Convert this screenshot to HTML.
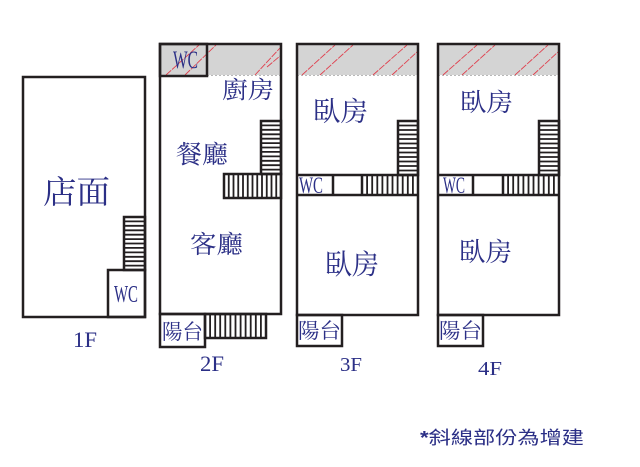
<!DOCTYPE html>
<html>
<head>
<meta charset="utf-8">
<style>
html,body{margin:0;padding:0;background:#fff;}
svg{display:block;}
.t{font-family:"Liberation Serif","Noto Serif CJK SC",serif;fill:#2b2f86;}
.n{font-family:"Liberation Sans","Noto Sans CJK TC",sans-serif;fill:#2b2f86;}
</style>
</head>
<body>
<svg width="640" height="467" viewBox="0 0 640 467" xmlns="http://www.w3.org/2000/svg">
<rect width="640" height="467" fill="#fff"/>

<!-- gray bands -->
<rect x="160" y="44" width="121" height="31" fill="#d4d4d4"/>
<rect x="297" y="44" width="121" height="31" fill="#d4d4d4"/>
<rect x="438" y="44" width="121" height="31" fill="#d4d4d4"/>
<g stroke="#b8b8b8" stroke-width="1" stroke-dasharray="2 2">
<line x1="207" y1="75.5" x2="281" y2="75.5"/>
<line x1="297" y1="75.5" x2="418" y2="75.5"/>
<line x1="438" y1="75.5" x2="559" y2="75.5"/>
</g>

<!-- hatch lines -->
<g stroke="#e0404e" stroke-width="0.9" stroke-dasharray="7 1.2" fill="none">
<line x1="166" y1="75" x2="199" y2="45"/>
<line x1="185" y1="75" x2="216" y2="45"/>
<line x1="255" y1="75" x2="280" y2="48"/>
<line x1="267" y1="67" x2="280" y2="56"/>
<line x1="302" y1="75" x2="335" y2="45"/>
<line x1="320" y1="75" x2="353" y2="45"/>
<line x1="373" y1="75" x2="407" y2="45"/>
<line x1="392" y1="75" x2="417" y2="52"/>
<line x1="443" y1="75" x2="477" y2="45"/>
<line x1="462" y1="75" x2="495" y2="45"/>
<line x1="515" y1="75" x2="548" y2="45"/>
<line x1="533" y1="75" x2="558" y2="52"/>
</g>

<g fill="none" stroke="#231f20" stroke-width="2.5">
<!-- 1F -->
<rect x="23" y="77" width="122" height="240"/>
<rect x="108" y="270" width="37" height="47"/>
<rect x="124" y="217" width="21" height="53"/>
<!-- 2F -->
<rect x="160" y="44" width="121" height="270"/>
<rect x="160" y="44" width="47" height="32"/>
<rect x="261" y="121" width="20" height="53"/>
<rect x="224" y="174" width="57" height="24"/>
<rect x="160" y="314" width="45" height="33"/>
<rect x="205" y="314" width="61" height="24"/>
<!-- 3F -->
<rect x="297" y="44" width="121" height="271"/>
<rect x="398" y="121" width="20" height="54"/>
<line x1="297" y1="175" x2="418" y2="175"/>
<line x1="297" y1="195" x2="418" y2="195"/>
<line x1="333" y1="175" x2="333" y2="195"/>
<line x1="362" y1="175" x2="362" y2="195"/>
<rect x="297" y="315" width="45" height="31"/>
<!-- 4F -->
<rect x="438" y="44" width="121" height="271"/>
<rect x="539" y="121" width="20" height="54"/>
<line x1="438" y1="175" x2="559" y2="175"/>
<line x1="438" y1="195" x2="559" y2="195"/>
<line x1="473" y1="175" x2="473" y2="195"/>
<line x1="503" y1="175" x2="503" y2="195"/>
<rect x="438" y="315" width="45" height="31"/>
</g>

<!-- stair treads -->
<g fill="none" stroke="#231f20" stroke-width="1.8">
<path d="M124 221.4H145M124 225.8H145M124 230.3H145M124 234.7H145M124 239.1H145M124 243.5H145M124 247.9H145M124 252.4H145M124 256.8H145M124 261.2H145M124 265.6H145"/>
<path d="M261 125.4H281M261 129.8H281M261 134.3H281M261 138.7H281M261 143.1H281M261 147.5H281M261 151.9H281M261 156.4H281M261 160.8H281M261 165.2H281M261 169.6H281"/>
<path d="M228.75 174V198M233.5 174V198M238.25 174V198M243 174V198M247.75 174V198M252.5 174V198M257.25 174V198M262 174V198M266.75 174V198M271.5 174V198M276.25 174V198"/>
<path d="M210.1 314V338M215.2 314V338M220.2 314V338M225.3 314V338M230.4 314V338M235.5 314V338M240.6 314V338M245.6 314V338M250.7 314V338M255.8 314V338M260.9 314V338"/>
<path d="M398 125.5H418M398 130H418M398 134.5H418M398 139H418M398 143.5H418M398 148H418M398 152.5H418M398 157H418M398 161.5H418M398 166H418M398 170.5H418"/>
<path d="M539 125.5H559M539 130H559M539 134.5H559M539 139H559M539 143.5H559M539 148H559M539 152.5H559M539 157H559M539 161.5H559M539 166H559M539 170.5H559"/>
<path d="M367.1 175V195M372.2 175V195M377.3 175V195M382.4 175V195M387.5 175V195M392.5 175V195M397.6 175V195M402.7 175V195M407.8 175V195M412.9 175V195"/>
<path d="M508.1 175V195M513.2 175V195M518.3 175V195M523.4 175V195M528.5 175V195M533.5 175V195M538.6 175V195M543.7 175V195M548.8 175V195M553.9 175V195"/>
</g>

<!-- labels -->
<text class="t" x="43" y="203" font-size="32" textLength="67" lengthAdjust="spacingAndGlyphs">店面</text>
<text class="t" x="222" y="98" font-size="24" textLength="52" lengthAdjust="spacingAndGlyphs">廚房</text>
<text class="t" x="176" y="163" font-size="25" textLength="52" lengthAdjust="spacingAndGlyphs">餐廳</text>
<text class="t" x="190" y="253" font-size="25" textLength="53" lengthAdjust="spacingAndGlyphs">客廳</text>
<text class="t" x="313" y="121" font-size="27" textLength="55" lengthAdjust="spacingAndGlyphs">臥房</text>
<text class="t" x="460" y="111" font-size="25" textLength="53" lengthAdjust="spacingAndGlyphs">臥房</text>
<text class="t" x="325" y="274" font-size="28" textLength="54" lengthAdjust="spacingAndGlyphs">臥房</text>
<text class="t" x="459" y="261" font-size="26" textLength="53" lengthAdjust="spacingAndGlyphs">臥房</text>
<text class="t" x="162" y="339" font-size="21" textLength="41" lengthAdjust="spacingAndGlyphs">陽台</text>
<text class="t" x="298" y="338" font-size="21" textLength="43" lengthAdjust="spacingAndGlyphs">陽台</text>
<text class="t" x="439" y="338" font-size="21" textLength="43" lengthAdjust="spacingAndGlyphs">陽台</text>

<text class="t" x="114" y="302" font-size="24" textLength="24" lengthAdjust="spacingAndGlyphs">WC</text>
<text class="t" x="173" y="68" font-size="25" textLength="25" lengthAdjust="spacingAndGlyphs">WC</text>
<text class="t" x="299" y="193" font-size="23" textLength="24" lengthAdjust="spacingAndGlyphs">WC</text>
<text class="t" x="443" y="193" font-size="23" textLength="22" lengthAdjust="spacingAndGlyphs">WC</text>

<text class="t" x="73" y="347" font-size="22" textLength="24" lengthAdjust="spacingAndGlyphs">1F</text>
<text class="t" x="200" y="371" font-size="22" textLength="24" lengthAdjust="spacingAndGlyphs">2F</text>
<text class="t" x="340" y="371" font-size="20" textLength="22" lengthAdjust="spacingAndGlyphs">3F</text>
<text class="t" x="478" y="375" font-size="20" textLength="24" lengthAdjust="spacingAndGlyphs">4F</text>

<text class="n" x="420" y="444" font-size="18" textLength="164" lengthAdjust="spacingAndGlyphs"><tspan font-weight="bold">*</tspan>斜線部份為增建</text>
</svg>
</body>
</html>
